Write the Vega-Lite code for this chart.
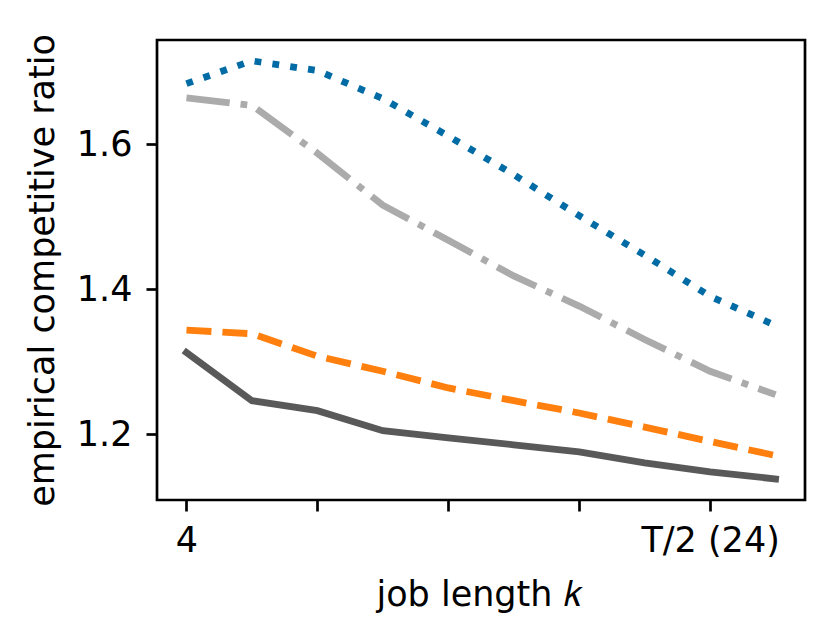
{
  "$schema": "https://vega.github.io/schema/vega-lite/v6.json",
  "width": 648,
  "height": 460,
  "autosize": {"type": "none"},
  "padding": {"left": 157, "top": 40, "right": 27, "bottom": 141},
  "background": "white",
  "config": {
    "font": "DejaVu Sans",
    "view": {"stroke": "black", "strokeWidth": 2.7},
    "axis": {
      "grid": false,
      "domain": false,
      "tickColor": "black",
      "tickWidth": 2.7,
      "tickSize": 11,
      "labelColor": "black",
      "labelFont": "DejaVu Sans",
      "labelFontSize": 35,
      "titleColor": "black",
      "titleFont": "DejaVu Sans",
      "titleFontSize": 35,
      "titleFontWeight": "normal"
    }
  },
  "data": {
    "values": [
      {"i": 0, "series": "A", "ratio": 1.6838},
      {"i": 1, "series": "A", "ratio": 1.7152},
      {"i": 2, "series": "A", "ratio": 1.7018},
      {"i": 3, "series": "A", "ratio": 1.663},
      {"i": 4, "series": "A", "ratio": 1.6114},
      {"i": 5, "series": "A", "ratio": 1.5582},
      {"i": 6, "series": "A", "ratio": 1.5014},
      {"i": 7, "series": "A", "ratio": 1.447},
      {"i": 8, "series": "A", "ratio": 1.3902},
      {"i": 9, "series": "A", "ratio": 1.35},
      {"i": 0, "series": "B", "ratio": 1.664},
      {"i": 1, "series": "B", "ratio": 1.6537},
      {"i": 2, "series": "B", "ratio": 1.5877},
      {"i": 3, "series": "B", "ratio": 1.516},
      {"i": 4, "series": "B", "ratio": 1.4677},
      {"i": 5, "series": "B", "ratio": 1.4183},
      {"i": 6, "series": "B", "ratio": 1.3767},
      {"i": 7, "series": "B", "ratio": 1.3306},
      {"i": 8, "series": "B", "ratio": 1.2867},
      {"i": 9, "series": "B", "ratio": 1.2544},
      {"i": 0, "series": "C", "ratio": 1.3435},
      {"i": 1, "series": "C", "ratio": 1.3385},
      {"i": 2, "series": "C", "ratio": 1.3075},
      {"i": 3, "series": "C", "ratio": 1.2867},
      {"i": 4, "series": "C", "ratio": 1.2637},
      {"i": 5, "series": "C", "ratio": 1.2461},
      {"i": 6, "series": "C", "ratio": 1.2291},
      {"i": 7, "series": "C", "ratio": 1.2097},
      {"i": 8, "series": "C", "ratio": 1.1898},
      {"i": 9, "series": "C", "ratio": 1.1704},
      {"i": 0, "series": "D", "ratio": 1.3126},
      {"i": 1, "series": "D", "ratio": 1.2461},
      {"i": 2, "series": "D", "ratio": 1.2323},
      {"i": 3, "series": "D", "ratio": 1.2046},
      {"i": 4, "series": "D", "ratio": 1.1949},
      {"i": 5, "series": "D", "ratio": 1.1852},
      {"i": 6, "series": "D", "ratio": 1.1755},
      {"i": 7, "series": "D", "ratio": 1.1603},
      {"i": 8, "series": "D", "ratio": 1.1478},
      {"i": 9, "series": "D", "ratio": 1.1381}
    ]
  },
  "encoding": {
    "x": {
      "field": "i",
      "type": "quantitative",
      "scale": {"domain": [-0.45, 9.45], "nice": false, "zero": false},
      "axis": {
        "values": [0, 2, 4, 6, 8],
        "labelExpr": "datum.value == 0 ? '4' : datum.value == 8 ? 'T/2 (24)' : ''",
        "labelBaseline": "alphabetic",
        "labelPadding": 40,
        "labelFlush": false,
        "title": "job length 𝑘",
        "titleBaseline": "alphabetic",
        "titleY": 105,
        "titleX": 322
      }
    },
    "y": {
      "field": "ratio",
      "type": "quantitative",
      "scale": {"domain": [1.109, 1.744], "nice": false, "zero": false},
      "axis": {
        "values": [1.2, 1.4, 1.6],
        "format": ".1f",
        "labelPadding": 14,
        "labelBaseline": "middle",
        "title": "empirical competitive ratio",
        "titleAngle": 270,
        "titleBaseline": "alphabetic",
        "titleAlign": "center",
        "titleX": -104,
        "titleY": 230
      }
    }
  },
  "layer": [
    {
      "transform": [{"filter": "datum.series == 'D'"}],
      "mark": {"type": "line", "color": "#595959", "strokeWidth": 6.8, "strokeCap": "square"}
    },
    {
      "transform": [{"filter": "datum.series == 'C'"}],
      "mark": {"type": "line", "color": "#FF800E", "strokeWidth": 6.8, "strokeDash": [25, 11]}
    },
    {
      "transform": [{"filter": "datum.series == 'B'"}],
      "mark": {"type": "line", "color": "#ABABAB", "strokeWidth": 6.8, "strokeDash": [43.5, 10.9, 6.8, 10.9]}
    },
    {
      "transform": [{"filter": "datum.series == 'A'"}],
      "mark": {"type": "line", "color": "#006BA4", "strokeWidth": 6.8, "strokeDash": [6.8, 11.2]}
    }
  ]
}
